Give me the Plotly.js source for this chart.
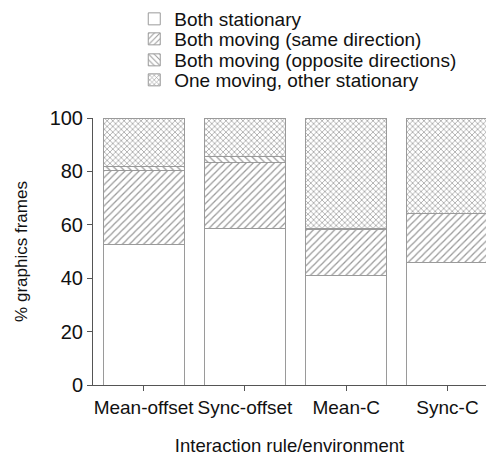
<!DOCTYPE html>
<html>
<head>
<meta charset="utf-8">
<script src="https://cdn.plot.ly/plotly-3.0.1.min.js"></script>
<style>html,body{margin:0;padding:0;overflow:hidden;background:#fff;}#chart{width:486px;height:457px;}</style>
</head>
<body>
<div id="chart"></div>
<script>
var categories = ["Mean-offset", "Sync-offset", "Mean-C", "Sync-C"];
var seriesNames = ["Both stationary", "Both moving (same direction)", "Both moving (opposite directions)", "One moving, other stationary"];
var bothStationary = [52.5, 58.8, 41.0, 45.7];
var sameDirection = [27.8, 24.5, 17.2, 18.5];
var oppositeDirections = [1.5, 2.3, 0.6, 0.0];
var oneMoving = [18.2, 14.4, 41.2, 35.8];
var yTicks = [0, 20, 40, 60, 80, 100];

var font = "Liberation Sans, Arial, sans-serif";
var lineCol = "#9a9a9a";
var patterns = [
  {shape: ""},
  {shape: "/", size: 5, solidity: 0.25, fgcolor: "#9a9a9a", bgcolor: "#ffffff"},
  {shape: "\\", size: 5, solidity: 0.25, fgcolor: "#9a9a9a", bgcolor: "#ffffff"},
  {shape: "x", size: 4, solidity: 0.35, fgcolor: "#a0a0a0", bgcolor: "#ffffff"}
];
var values = [bothStationary, sameDirection, oppositeDirections, oneMoving];
var legendIds = ["legend", "legend2", "legend3", "legend4"];
var legendRowPx = [18, 39, 60, 80];

var plotTop = 117, plotBottom = 385;
var traces = values.map(function (v, i) {
  return {
    type: "bar",
    name: seriesNames[i],
    legend: legendIds[i],
    x: categories,
    y: v,
    marker: {
      color: "#ffffff",
      line: {color: lineCol, width: 1},
      pattern: patterns[i]
    },
    hoverinfo: "skip"
  };
});

var layout = {
  width: 486,
  height: 457,
  margin: {l: 93, r: 0, t: plotTop, b: 457 - plotBottom},
  paper_bgcolor: "#ffffff",
  plot_bgcolor: "#ffffff",
  barmode: "stack",
  bargap: 0.2,
  showlegend: true,
  font: {family: font, color: "#111", size: 18},
  xaxis: {
    type: "category",
    range: [-0.5, 3.38],
    showline: true,
    linecolor: "#555",
    linewidth: 1,
    ticks: "outside",
    ticklen: 5,
    tickcolor: "#555",
    showgrid: false,
    zeroline: false,
    tickfont: {family: font, size: 19, color: "#111"},
    title: {text: "Interaction rule/environment", font: {family: font, size: 18.5, color: "#111"}, standoff: 22}
  },
  yaxis: {
    range: [0, 100],
    tickvals: yTicks,
    showline: true,
    linecolor: "#555",
    linewidth: 1,
    ticks: "outside",
    ticklen: 5,
    tickcolor: "#555",
    showgrid: false,
    zeroline: false,
    tickfont: {family: font, size: 20, color: "#111"},
    title: {text: "% graphics frames", font: {family: font, size: 17, color: "#111"}, standoff: 17}
  }
};

legendIds.forEach(function (id, i) {
  layout[id] = {
    x: 0.105, xanchor: "left",
    y: 1 + (plotTop - legendRowPx[i]) / (plotBottom - plotTop), yanchor: "middle",
    font: {family: font, size: 19, color: "#111"},
    bgcolor: "rgba(0,0,0,0)",
    itemwidth: 30
  };
});

Plotly.newPlot("chart", traces, layout, {displayModeBar: false, staticPlot: true});
</script>
</body>
</html>
